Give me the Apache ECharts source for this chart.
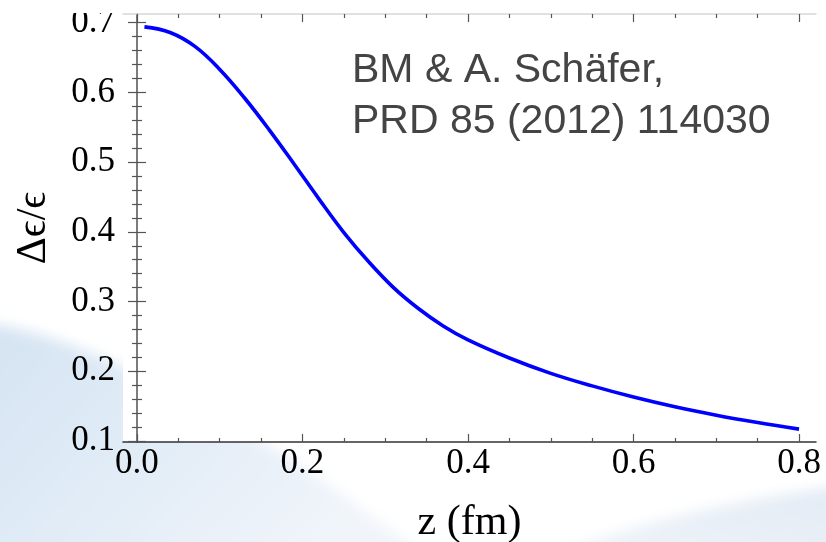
<!DOCTYPE html>
<html>
<head>
<meta charset="utf-8">
<script src="https://cdn.jsdelivr.net/npm/echarts@6/dist/echarts.min.js"></script>
<style>
  html, body { margin: 0; padding: 0; background: #fff; }
  #wrap { position: relative; width: 826px; height: 542px; overflow: hidden; }
  #bg { position: absolute; left: 0; top: 0; }
  #chart { position: absolute; left: 0; top: 0; width: 826px; height: 542px; }
</style>
</head>
<body>
<div id="wrap">
  <!-- soft slide backdrop behind the figure -->
  <svg id="bg" width="826" height="542" viewBox="0 0 826 542">
    <defs>
      <linearGradient id="waveL" x1="0" y1="0" x2="1" y2="0.5">
        <stop offset="0" stop-color="#d4e3f2"/>
        <stop offset="0.55" stop-color="#e3edf7"/>
        <stop offset="1" stop-color="#f1f5fa"/>
      </linearGradient>
      <linearGradient id="waveR" x1="0" y1="1" x2="1" y2="0">
        <stop offset="0" stop-color="#f1f5fa"/>
        <stop offset="1" stop-color="#e1eaf4"/>
      </linearGradient>
      <filter id="soft"><feGaussianBlur stdDeviation="7"/></filter>
    </defs>
    <path d="M-20,322 C60,332 130,368 220,418 C300,462 360,505 430,560 L-20,560 Z" fill="url(#waveL)" filter="url(#soft)"/>
    <path d="M540,560 C640,520 740,500 850,485 L850,560 Z" fill="url(#waveR)" filter="url(#soft)"/>
  </svg>
  <div id="chart"></div>
</div>
<script>
// z (fm) samples and the ratio Δε/ε along the curve
const zValues = [0.009, 0.04, 0.07, 0.10, 0.13, 0.16, 0.19, 0.22, 0.25, 0.28, 0.31, 0.34, 0.37, 0.40, 0.45, 0.50, 0.55, 0.60, 0.65, 0.70, 0.75, 0.80];
const ratioValues = [0.694, 0.686, 0.666, 0.633, 0.592, 0.546, 0.497, 0.447, 0.399, 0.357, 0.320, 0.290, 0.265, 0.245, 0.219, 0.197, 0.179, 0.163, 0.149, 0.137, 0.1265, 0.117];

// tick positions
const xMajorTicks = [0, 0.2, 0.4, 0.6, 0.8];
const xMinorTicks = [0.05, 0.1, 0.15, 0.25, 0.3, 0.35, 0.45, 0.5, 0.55, 0.65, 0.7, 0.75];
const yMajorTicks = [0.1, 0.2, 0.3, 0.4, 0.5, 0.6, 0.7];
const yMinorTicks = [0.12, 0.14, 0.16, 0.18, 0.22, 0.24, 0.26, 0.28, 0.32, 0.34, 0.36, 0.38,
                     0.42, 0.44, 0.46, 0.48, 0.52, 0.54, 0.56, 0.58, 0.62, 0.64, 0.66, 0.68];

const xLabel = 'z (fm)';
const yLabel = 'Δϵ/ϵ';
const noteLines = ['BM & A. Schäfer,', 'PRD 85 (2012) 114030'];

const X_MIN = -0.0169, X_MAX = 0.8205;
const Y_MIN = 0.0985, Y_MAX = 0.7125;
const SERIF = '"Liberation Serif", "Times New Roman", "DejaVu Serif", serif';
const FRAME = '#555';

function xAxisDef(pos, ticks, len, withLabels, lineColor) {
  return {
    type: 'value', position: pos, min: X_MIN, max: X_MAX,
    axisLine: { show: lineColor != null, lineStyle: { color: lineColor || FRAME, width: 1.5 } },
    axisTick: { show: true, inside: true, length: len, customValues: ticks, lineStyle: { color: FRAME, width: 1.2 } },
    axisLabel: withLabels ? {
      show: true, customValues: ticks, margin: 4,
      formatter: v => v.toFixed(1),
      fontFamily: SERIF, fontSize: 35, color: '#000'
    } : { show: false },
    splitLine: { show: false }
  };
}
function yAxisDef(pos, ticks, len, withLabels, lineColor) {
  return {
    type: 'value', position: pos, min: Y_MIN, max: Y_MAX,
    axisLine: { show: lineColor != null, lineStyle: { color: lineColor || FRAME, width: 1.5 } },
    axisTick: { show: true, inside: true, length: len, customValues: ticks, lineStyle: { color: FRAME, width: 1.2 } },
    axisLabel: withLabels ? {
      show: true, customValues: ticks, margin: 8,
      formatter: v => v.toFixed(1),
      fontFamily: SERIF, fontSize: 35, color: '#000'
    } : { show: false },
    splitLine: { show: false }
  };
}

const xAxes = [
  Object.assign(xAxisDef('bottom', xMajorTicks, 8, true, '#333'), {
    name: xLabel, nameLocation: 'middle', nameGap: 60,
    nameTextStyle: { fontFamily: SERIF, fontSize: 42, color: '#000' }
  }),
  xAxisDef('bottom', xMinorTicks, 4, false, null),
  xAxisDef('top', xMajorTicks, 8, false, '#d8d8d8'),
  xAxisDef('top', xMinorTicks, 4, false, null)
];
const yAxes = [
  Object.assign(yAxisDef('left', yMajorTicks, 9, true, '#666'), {
    name: yLabel, nameLocation: 'middle', nameGap: 68, nameRotate: 90,
    nameTextStyle: { fontFamily: SERIF, fontSize: 42, color: '#000' }
  }),
  yAxisDef('left', yMinorTicks, 5, false, null),
  yAxisDef('right', yMajorTicks, 9, false, '#777'),
  yAxisDef('right', yMinorTicks, 5, false, null)
];

const chart = echarts.init(document.getElementById('chart'), null, { renderer: 'canvas' });
chart.setOption({
  backgroundColor: 'transparent',
  animation: false,
  grid: {
    left: 123, right: 10, top: 14, bottom: 100,
    show: true, backgroundColor: '#fff', borderWidth: 0,
    containLabel: false, outerBoundsMode: 'none'
  },
  xAxis: xAxes,
  yAxis: yAxes,
  series: [{
    type: 'line',
    xAxisIndex: 0, yAxisIndex: 0,
    data: zValues.map((z, i) => [z, ratioValues[i]]),
    smooth: 0.4,
    showSymbol: false,
    lineStyle: { color: '#0000ff', width: 3.6 },
    z: 5
  }],
  graphic: [
    {
      type: 'text', left: 352, top: 45, z: 10,
      style: {
        text: noteLines.join('\n'),
        font: '41px "Liberation Sans", Arial, Helvetica, sans-serif',
        lineHeight: 51,
        fill: '#444'
      }
    },
    {
      // the figure is trimmed just above its frame
      type: 'rect', left: 0, top: 0, z: 20,
      shape: { width: 826, height: 13 },
      style: { fill: '#fff' }
    }
  ]
});
</script>
</body>
</html>
